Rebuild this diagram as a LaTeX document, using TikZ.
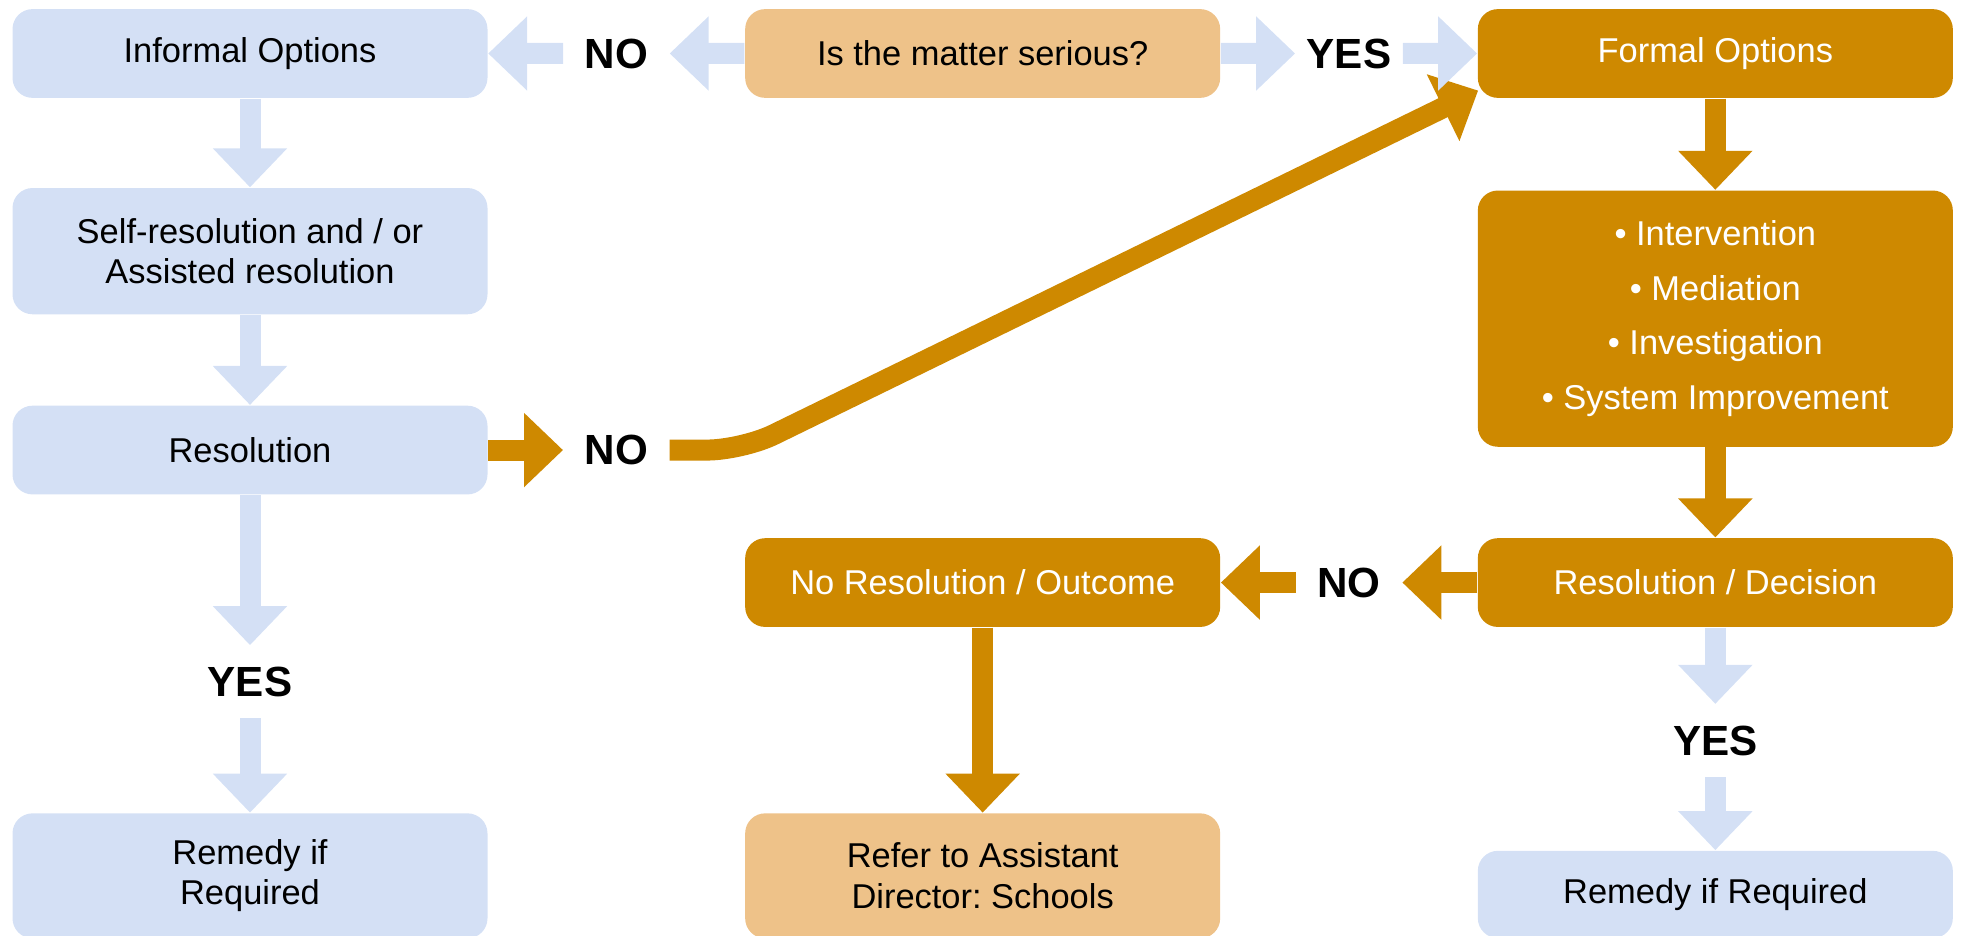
\documentclass[tikz,border=0pt]{standalone}
\usepackage{fontspec}
\setmainfont{Liberation Sans}
\usepackage{xcolor}
\usetikzlibrary{calc,positioning,arrows.meta}

\definecolor{paleblue}{HTML}{D4E0F5}
\definecolor{darkgold}{HTML}{CE8900}
\definecolor{palegold}{HTML}{EEC289}

\begin{document}
\begin{tikzpicture}[box/.style={rectangle, rounded corners=0.2cm, minimum width=4.75cm, minimum height=0.8875cm, align=center, inner sep=0.1cm, font=\fontsize{9.8}{11.5}\selectfont},
    soft/.style={box, fill=paleblue},
    pale/.style={box, fill=palegold},
    gold/.style={box, fill=darkgold, text=white},
    answer/.style={font=\bfseries\fontsize{12}{14}\selectfont, inner sep=0.21cm},
    fat/.style={line width=0.21cm, -{Triangle[length=0.39cm, width=0.72cm]}},
    bluefat/.style={fat, draw=paleblue},
    goldfat/.style={fat, draw=darkgold}]
      \useasboundingbox (0,0) rectangle (19.61,9.35);
      % informal side
      \node (informal) [soft] at (2.5,8.815) {Informal Options};
      \node (selfres) [soft, below=0.8875cm of informal, minimum height=1.2625cm] {Self-resolution and / or\\Assisted resolution};
      \node (resol) [soft, below=0.9cm of selfres] {Resolution};
      \node (remedyL) [soft, below=3.175cm of resol, minimum height=1.25cm] {Remedy if\\Required};
      % question and formal side
      \node (serious) [pale, right=2.5625cm of informal] {Is the matter serious?};
      \node (formal) [gold, right=2.5625cm of serious] {Formal Options};
      \node (options) [gold, below=0.9125cm of formal, minimum height=2.5625cm, font=\fontsize{9.8}{15.6}\selectfont] {• Intervention\\• Mediation\\• Investigation\\• System Improvement};
      \node (decision) [gold, below=0.9cm of options] {Resolution / Decision};
      \node (remedyR) [soft, below=2.225cm of decision, minimum height=0.8725cm] {Remedy if Required};
      \node (noresol) [gold, left=2.5625cm of decision] {No Resolution / Outcome};
      \node (refer) [pale, below=1.85cm of noresol, minimum height=1.25cm] {Refer to Assistant\\Director:\ Schools};
      % yes / no answers
      \node (noT) [answer] at ($(informal.east)!0.5!(serious.west)$) {NO};
      \node (yesT) [answer, inner xsep=0.11cm] at ($(serious.east)!0.5!(formal.west)$) {YES};
      \node (noR) [answer] at (noT |- resol) {NO};
      \node (yesL) [answer, below=1.5cm of resol] {YES};
      \node (noM) [answer] at ($(noresol.east)!0.5!(decision.west)$) {NO};
      \node (yesR) [answer, below=0.7625cm of decision] {YES};
      % connectors
      \coordinate (bend) at ($(noR.east)+(0.725,0)$);
      \coordinate (corner) at ($(formal.south west)+(0.01,0.08)$);
      \draw[goldfat, rounded corners=0.35cm] (noR.east) -- (bend) -- (corner);
      \draw[bluefat] (serious) -- (noT);
      \draw[bluefat] (noT) -- (informal);
      \draw[bluefat] (serious) -- (yesT);
      \draw[bluefat] (yesT) -- (formal);
      \draw[bluefat] (informal) -- (selfres);
      \draw[bluefat] (selfres) -- (resol);
      \draw[bluefat] (resol) -- (yesL);
      \draw[bluefat] (yesL) -- (remedyL);
      \draw[goldfat] (resol) -- (noR);
      \draw[goldfat] (formal) -- (options);
      \draw[goldfat] (options) -- (decision);
      \draw[goldfat] (decision) -- (noM);
      \draw[goldfat] (noM) -- (noresol);
      \draw[goldfat] (noresol) -- (refer);
      \draw[bluefat] (decision) -- (yesR);
      \draw[bluefat] (yesR) -- (remedyR);
\end{tikzpicture}
\end{document}
